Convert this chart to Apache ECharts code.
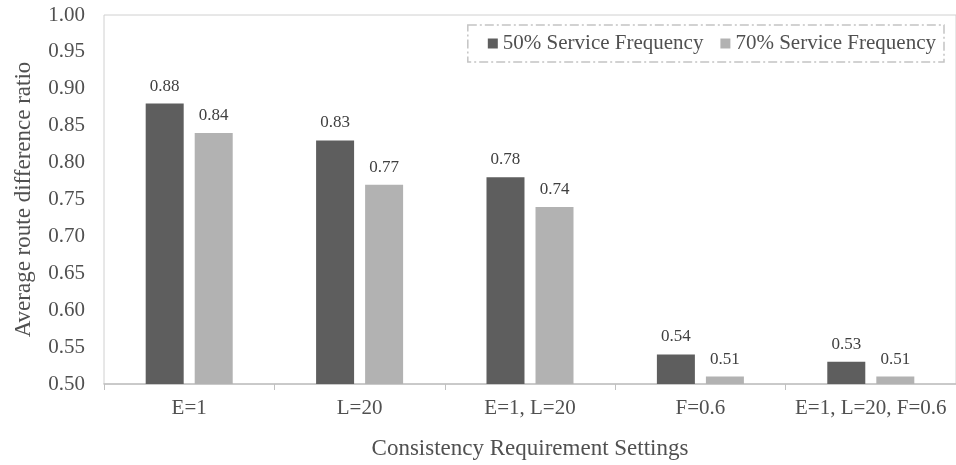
<!DOCTYPE html>
<html>
<head>
<meta charset="utf-8">
<script src="https://cdn.jsdelivr.net/npm/echarts@6/dist/echarts.min.js"></script>
<style>html,body{margin:0;padding:0;background:#fff}#c{width:956px;height:465px}</style>
</head>
<body>
<div id="c"></div>
<script>
var categories = ['E=1', 'L=20', 'E=1, L=20', 'F=0.6', 'E=1, L=20, F=0.6'];
var freq50 = [0.88, 0.83, 0.78, 0.54, 0.53];
var freq70 = [0.84, 0.77, 0.74, 0.51, 0.51];
var yTicks = { min: 0.5, max: 1.0, interval: 0.05 };

var font = 'Liberation Serif, Times New Roman, serif';
var chart = echarts.init(document.getElementById('c'));
var labelCfg = {
  show: true, position: 'top', distance: 9,
  color: '#404040', fontFamily: font, fontSize: 17,
  formatter: function (p) { return p.value.toFixed(2); }
};
chart.setOption({
  animation: false,
  textStyle: { fontFamily: font },
  grid: { left: 104, right: 0, top: 15, bottom: 81, show: true, borderColor: '#d0d0d0', borderWidth: 1 },
  legend: {
    right: 12, top: 25,
    itemWidth: 10, itemHeight: 10, itemGap: 17,
    padding: [8, 8, 8, 20],
    borderColor: '#c4c4c4', borderWidth: 1.5, borderType: [9, 3, 2, 3],
    textStyle: { fontFamily: font, fontSize: 21, color: '#505050' },
    data: [
      { name: '50% Service Frequency', icon: 'rect' },
      { name: '70% Service Frequency', icon: 'rect' }
    ]
  },
  xAxis: {
    type: 'category', data: categories,
    name: 'Consistency Requirement Settings', nameLocation: 'middle', nameGap: 53,
    nameTextStyle: { fontFamily: font, fontSize: 23, color: '#505050' },
    axisLine: { lineStyle: { color: '#c0c0c0', width: 1.5 } },
    axisTick: { show: true, length: 6, lineStyle: { color: '#c0c0c0' } },
    axisLabel: { interval: 0, fontFamily: font, fontSize: 21, color: '#505050', margin: 14 }
  },
  yAxis: {
    type: 'value', min: yTicks.min, max: yTicks.max, interval: yTicks.interval,
    name: 'Average route difference ratio', nameLocation: 'middle', nameGap: 69,
    nameTextStyle: { fontFamily: font, fontSize: 23, color: '#505050' },
    axisLine: { show: false }, axisTick: { show: false }, splitLine: { show: false },
    axisLabel: { fontFamily: font, fontSize: 21, color: '#505050', margin: 19,
      formatter: function (v) { return v.toFixed(2); } }
  },
  series: [
    { name: '50% Service Frequency', type: 'bar', data: freq50, barWidth: 38, barGap: '29%',
      itemStyle: { color: '#5e5e5e' }, label: labelCfg },
    { name: '70% Service Frequency', type: 'bar', data: freq70, barWidth: 38, barGap: '29%',
      itemStyle: { color: '#b2b2b2' }, label: labelCfg }
  ]
});
</script>
</body>
</html>
